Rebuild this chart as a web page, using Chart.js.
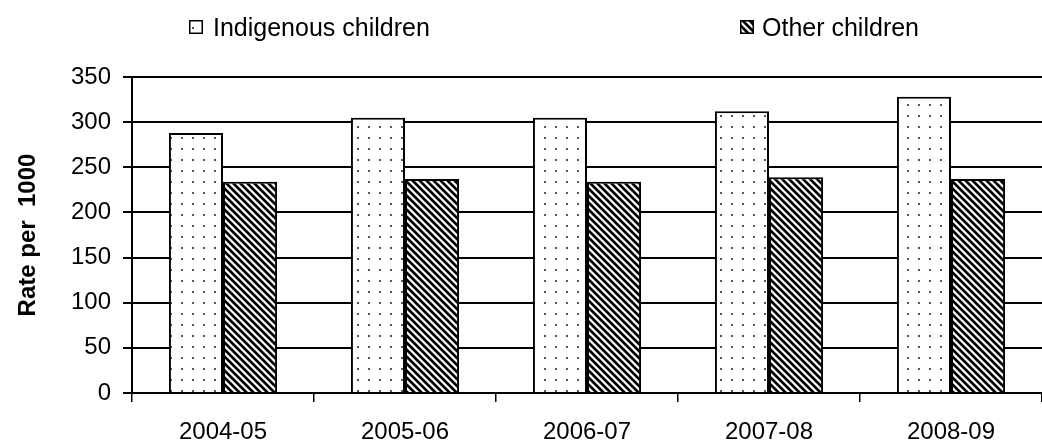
<!DOCTYPE html>
<html><head><meta charset="utf-8">
<script src="https://cdn.jsdelivr.net/npm/chart.js@4.4.1/dist/chart.umd.min.js"></script>
<style>html,body{margin:0;padding:0;background:#fff;overflow:hidden}</style>
</head><body>
<canvas id="c" width="1042" height="441"></canvas>
<script>
const categories = ['2004-05', '2005-06', '2006-07', '2007-08', '2008-09'];
const indigenous = [288, 305, 305, 312, 328];
const other = [234, 237, 234, 239, 237];
const seriesNames = ['Indigenous children', 'Other children'];
const yTicks = [0, 50, 100, 150, 200, 250, 300, 350];
const yTitle = 'Rate per  1000';

const FONT = '"Liberation Sans", Arial, sans-serif';
const canvas = document.getElementById('c');
const ctx = canvas.getContext('2d');

function dotPattern() {
  const c = document.createElement('canvas');
  c.width = 11; c.height = 11;
  const g = c.getContext('2d');
  g.fillStyle = '#fff'; g.fillRect(0, 0, 11, 11);
  g.fillStyle = '#555'; g.fillRect(5, 5, 2, 2);
  return ctx.createPattern(c, 'repeat');
}
function stripePattern() {
  const T = 7;
  const c = document.createElement('canvas');
  c.width = T; c.height = T;
  const g = c.getContext('2d');
  const img = g.createImageData(T, T);
  for (let y = 0; y < T; y++) for (let x = 0; x < T; x++) {
    const d = ((x - y) % T + T) % T;
    const v = d < 3 ? 0 : (d === 3 || d === 6 ? 150 : 255);
    const k = (y * T + x) * 4;
    img.data[k] = img.data[k + 1] = img.data[k + 2] = v; img.data[k + 3] = 255;
  }
  g.putImageData(img, 0, 0);
  return ctx.createPattern(c, 'repeat');
}

const legendPos = [{ box: 189, text: 213 }, { box: 740, text: 762 }];
const legendPlugin = {
  id: 'customLegend',
  afterDraw(chart) {
    const c = chart.ctx;
    chart.data.datasets.forEach((ds, i) => {
      const p = legendPos[i];
      c.save();
      c.fillStyle = ds.backgroundColor;
      c.fillRect(p.box, 20, 14, 14);
      c.strokeStyle = '#000'; c.lineWidth = 1.5;
      c.strokeRect(p.box + 0.75, 20.75, 12.5, 12.5);
      c.fillStyle = '#000';
      c.font = '25px ' + FONT;
      c.textBaseline = 'alphabetic';
      c.textAlign = 'left';
      c.fillText(ds.label, p.text, 36);
      c.restore();
    });
  }
};

new Chart(ctx, {
  type: 'bar',
  data: {
    labels: categories,
    datasets: [
      { label: seriesNames[0], data: indigenous, backgroundColor: dotPattern(), borderColor: '#000', borderWidth: 2 },
      { label: seriesNames[1], data: other, backgroundColor: stripePattern(), borderColor: '#000', borderWidth: 2 }
    ]
  },
  options: {
    responsive: false, animation: false, devicePixelRatio: 1,
    layout: { padding: { top: 77, left: 0, right: -11, bottom: 0 } },
    datasets: { bar: { categoryPercentage: 0.594, barPercentage: 1 } },
    plugins: { legend: { display: false }, tooltip: { enabled: false } },
    scales: {
      x: {
        grid: { offset: true, drawOnChartArea: false, drawTicks: true, tickLength: 9, color: '#000', lineWidth: 1.5 },
        border: { display: true, color: '#000', width: 2 },
        ticks: { color: '#000', font: { family: FONT, size: 24 }, padding: 16, maxRotation: 0, autoSkip: false },
        afterFit(s) { s.height = 48; }
      },
      y: {
        min: 0, max: 350,
        afterBuildTicks(s) { s.ticks = yTicks.map(v => ({ value: v })); },
        grid: { color: '#000', lineWidth: 2, tickLength: 9, drawTicks: true },
        border: { display: true, color: '#000', width: 2 },
        ticks: { color: '#000', font: { family: FONT, size: 24 }, padding: 12 },
        title: { display: true, text: yTitle, color: '#000', font: { family: FONT, size: 24, weight: 'bold' }, padding: { top: 14, bottom: 0 } },
        afterFit(s) { s.width = 132; }
      }
    }
  },
  plugins: [legendPlugin]
});
</script>
</body></html>
